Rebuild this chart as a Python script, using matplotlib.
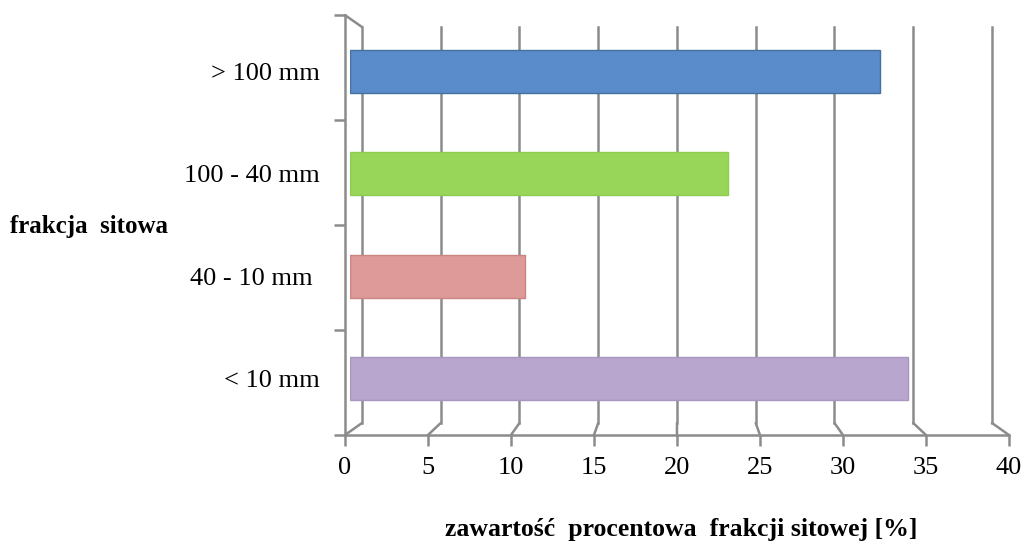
import numpy as np
import matplotlib.pyplot as plt
from matplotlib.patches import ConnectionPatch

categories = ['< 10 mm', '40 - 10 mm ', '100 - 40 mm', '> 100 mm']
values = [34.1, 10.7, 23.1, 32.4]
bar_colors = ['#b8a6ce', '#de9a99', '#98d65a', '#5a8ccb']
edge_colors = ['#a996c0', '#c98584', '#8ccc4e', '#44719f']
x_ticks = np.arange(0, 45, 5)

grid_col = '#8c8c8c'

fig = plt.figure(figsize=(10.24, 5.46), dpi=100)

# back wall: only the vertical gridlines
ax_back = fig.add_axes([0.3535, 0.2253, 0.6152, 0.7253])
ax_back.set_xlim(0, 40)
ax_back.set_ylim(0, 4)
for v in x_ticks:
    ax_back.axvline(v, color=grid_col, lw=1.8, clip_on=False)
ax_back.axis('off')

# front frame: axis lines, ticks and numbers
ax_front = fig.add_axes([0.3369, 0.2033, 0.6484, 0.769])
ax_front.set_xlim(0, 40)
ax_front.set_ylim(0, 4)
ax_front.patch.set_alpha(0)
for s in ['top', 'right']:
    ax_front.spines[s].set_visible(False)
for s in ['left', 'bottom']:
    ax_front.spines[s].set_color(grid_col)
    ax_front.spines[s].set_linewidth(1.8)
ax_front.set_xticks(x_ticks)
ax_front.set_yticks(range(5))
ax_front.set_yticklabels([])
ax_front.tick_params(axis='both', color=grid_col, width=1.8, length=8)
ax_front.tick_params(axis='x', labelsize=19, pad=8)
for lbl in ax_front.get_xticklabels():
    lbl.set_family('Liberation Serif')

# little 3d connectors between back wall and front frame
for v in x_ticks:
    con = ConnectionPatch(xyA=(v, 0), coordsA=ax_back.transData,
                          xyB=(v, 0), coordsB=ax_front.transData,
                          color=grid_col, lw=1.8)
    fig.add_artist(con)
con = ConnectionPatch(xyA=(0, 4), coordsA=ax_back.transData,
                      xyB=(0, 4), coordsB=ax_front.transData,
                      color=grid_col, lw=1.8)
fig.add_artist(con)

# bars in the middle depth
ax_bar = fig.add_axes([0.3418, 0.2125, 0.6387, 0.7509])
ax_bar.set_xlim(0, 40)
ax_bar.set_ylim(-0.5, 3.5)
ax_bar.patch.set_alpha(0)
y = np.arange(len(categories))
ax_bar.barh(y, values, height=0.42, color=bar_colors, edgecolor=edge_colors,
            linewidth=1.0, zorder=3)
for s in ax_bar.spines.values():
    s.set_visible(False)
ax_bar.set_xticks([])
ax_bar.set_yticks(y)
ax_bar.set_yticklabels(categories, family='Liberation Serif', fontsize=19)
ax_bar.tick_params(axis='y', length=0, pad=22)

fig.text(0.01, 0.585, 'frakcja  sitowa', family='Liberation Serif',
         fontweight='bold', fontsize=18, va='center', ha='left')
fig.text(0.665, 0.03, 'zawartość  procentowa  frakcji sitowej [%]',
         family='Liberation Serif', fontweight='bold', fontsize=18.5,
         va='center', ha='center')

plt.savefig('out.png', dpi=100)
